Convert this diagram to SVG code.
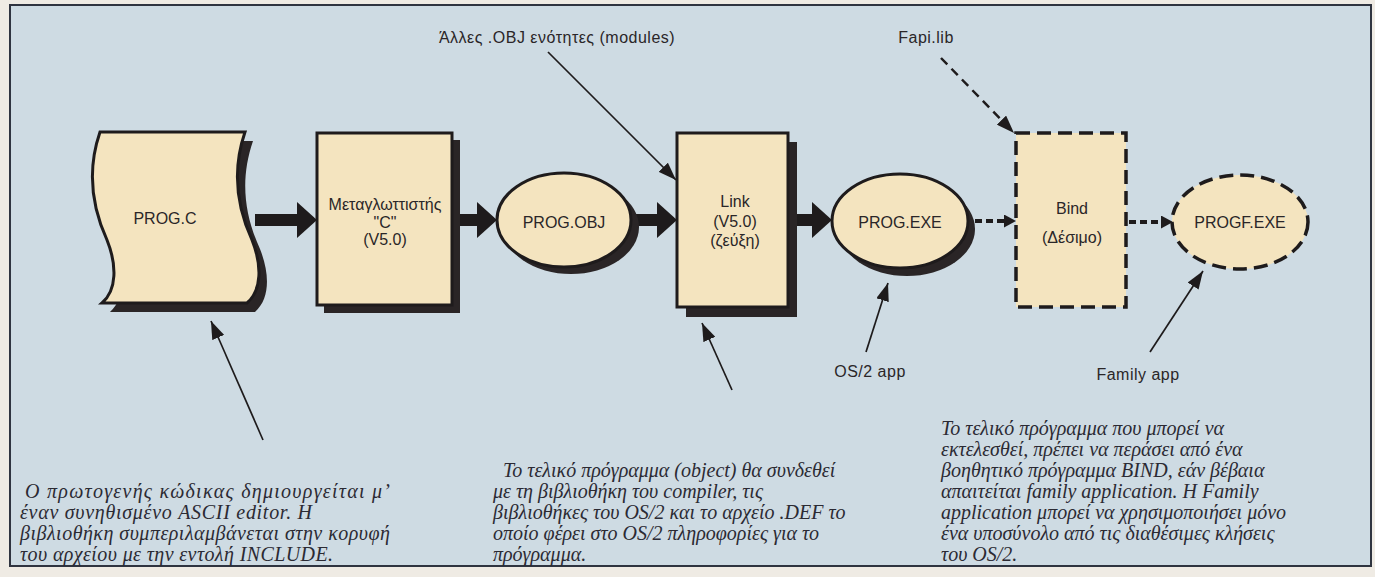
<svg xmlns="http://www.w3.org/2000/svg" width="1375" height="577" viewBox="0 0 1375 577">
<style>
.lbl{font-family:"Liberation Sans",Arial,sans-serif;font-size:16px;fill:#2a2628;text-anchor:middle}
.cap{font-family:"Liberation Sans",Arial,sans-serif;font-size:16px;letter-spacing:0.5px;fill:#2a2628;text-anchor:middle}
.note{font-family:"Liberation Serif","Times New Roman",serif;font-style:italic;font-size:20px;fill:#2b2a33}
.node{fill:#f4e4bf;stroke:#1e1b1c;stroke-width:3}
.shadow{fill:#2a2526}
.dnode{fill:#f4e4bf;stroke:#1e1b1c;stroke-width:3.5;stroke-dasharray:14 7}
.thick{stroke:#1e1b1c;stroke-width:12;fill:none}
.dash{stroke:#1e1b1c;stroke-width:4;fill:none;stroke-dasharray:7 4}
.thin{stroke:#1e1b1c;stroke-width:1.7;fill:none}
</style>
<defs>
<marker id="mThick" markerUnits="userSpaceOnUse" markerWidth="20" markerHeight="36" viewBox="0 0 20 36" refX="0" refY="18" orient="auto"><path d="M0,0 L20,18 L0,36 Z" fill="#1e1b1c"/></marker>
<marker id="mDash" markerUnits="userSpaceOnUse" markerWidth="12" markerHeight="13" viewBox="0 0 12 13" refX="0" refY="6.5" orient="auto"><path d="M0,0 L12,6.5 L0,13 Z" fill="#1e1b1c"/></marker>
<marker id="mThin" markerUnits="userSpaceOnUse" markerWidth="18" markerHeight="13" viewBox="0 0 18 13" refX="18" refY="6.5" orient="auto"><path d="M0,0 L18,6.5 L0,13 Z" fill="#1e1b1c"/></marker>
</defs>
<rect x="0" y="0" width="1375" height="577" fill="#efebe4"/>
<rect x="10" y="5" width="1361" height="561" fill="#cedbe3" stroke="#2f3440" stroke-width="2"/>

<g id="connectors">
<line class="thick" x1="255" y1="220" x2="297" y2="220" marker-end="url(#mThick)"/>
<line class="thick" x1="455" y1="220" x2="477" y2="220" marker-end="url(#mThick)"/>
<line class="thick" x1="634" y1="220" x2="657" y2="220" marker-end="url(#mThick)"/>
<line class="thick" x1="792" y1="220" x2="812" y2="220" marker-end="url(#mThick)"/>
<line class="dash" x1="975" y1="221" x2="1004" y2="221" marker-end="url(#mDash)"/>
<line class="dash" x1="1129" y1="222" x2="1161" y2="222" marker-end="url(#mDash)"/>
<line x1="941" y1="58" x2="1014" y2="133" stroke="#1e1b1c" stroke-width="2.5" stroke-dasharray="9 6" marker-end="url(#mThin)"/>
<line class="thin" x1="548" y1="52" x2="676" y2="180" marker-end="url(#mThin)"/>
<line class="thin" x1="263" y1="440" x2="211" y2="321" marker-end="url(#mThin)"/>
<line class="thin" x1="732" y1="390" x2="702" y2="323" marker-end="url(#mThin)"/>
<line class="thin" x1="866" y1="352" x2="888" y2="283" marker-end="url(#mThin)"/>
<line class="thin" x1="1150" y1="352" x2="1203" y2="271" marker-end="url(#mThin)"/>
</g>

<g id="prog-c">
<path class="shadow" transform="translate(8,9)" d="M100,132 L245,132 C232,170 236,205 252,240 C262,265 262,290 247,303 L102,303 C117,290 117,265 107,240 C91,205 87,170 100,132 Z"/>
<path class="node" d="M100,132 L245,132 C232,170 236,205 252,240 C262,265 262,290 247,303 L102,303 C117,290 117,265 107,240 C91,205 87,170 100,132 Z"/>
<text class="lbl" x="165" y="224">PROG.C</text>
</g>

<g id="compiler">
<rect class="shadow" x="324" y="140" width="136" height="173"/>
<rect class="node" x="317" y="133" width="135" height="172"/>
<text class="lbl" x="385" y="210">Μεταγλωττιστής</text>
<text class="lbl" x="385" y="228">"C"</text>
<text class="lbl" x="385" y="245">(V5.0)</text>
</g>

<g id="prog-obj">
<ellipse class="shadow" cx="571" cy="227" rx="68" ry="47"/>
<ellipse class="node" cx="564" cy="220" rx="67" ry="47"/>
<text class="lbl" x="564" y="228">PROG.OBJ</text>
</g>

<g id="link">
<rect class="shadow" x="686" y="142" width="111" height="175"/>
<rect class="node" x="677" y="133" width="111" height="174"/>
<text class="lbl" x="735" y="207">Link</text>
<text class="lbl" x="735" y="227">(V5.0)</text>
<text class="lbl" x="735" y="246">(ζεύξη)</text>
</g>

<g id="prog-exe">
<ellipse class="shadow" cx="907" cy="229" rx="68" ry="47"/>
<ellipse class="node" cx="900" cy="221" rx="68" ry="47"/>
<text class="lbl" x="900" y="228">PROG.EXE</text>
</g>

<g id="bind">
<rect class="dnode" x="1016" y="133" width="110" height="174"/>
<text class="lbl" x="1072" y="214">Bind</text>
<text class="lbl" x="1072" y="243">(Δέσιμο)</text>
</g>

<g id="progf-exe">
<ellipse class="dnode" cx="1240" cy="222" rx="68" ry="47"/>
<text class="lbl" x="1240" y="228">PROGF.EXE</text>
</g>

<g id="labels">
<text class="cap" x="557" y="43">Άλλες .OBJ ενότητες (modules)</text>
<text class="cap" x="926" y="43">Fapi.lib</text>
<text class="cap" x="870" y="377">OS/2 app</text>
<text class="cap" x="1138" y="380">Family app</text>
</g>

<g id="note-source">
<text class="note" x="25" y="498" textLength="365" lengthAdjust="spacing">Ο πρωτογενής κώδικας δημιουργείται μ’</text>
<text class="note" x="20" y="519" textLength="292" lengthAdjust="spacing">έναν συνηθισμένο ASCII editor. Η</text>
<text class="note" x="20" y="540" textLength="370" lengthAdjust="spacing">βιβλιοθήκη συμπεριλαμβάνεται στην κορυφή</text>
<text class="note" x="20" y="561" textLength="313" lengthAdjust="spacing">του αρχείου με την εντολή INCLUDE.</text>
</g>

<g id="note-link">
<text class="note" x="503" y="477">Το τελικό πρόγραμμα (object) θα συνδεθεί</text>
<text class="note" x="493" y="498">με τη βιβλιοθήκη του compiler, τις</text>
<text class="note" x="493" y="519">βιβλιοθήκες του OS/2 και το αρχείο .DEF το</text>
<text class="note" x="493" y="540">οποίο φέρει στο OS/2 πληροφορίες για το</text>
<text class="note" x="493" y="561">πρόγραμμα.</text>
</g>

<g id="note-bind">
<text class="note" x="941" y="435">Το τελικό πρόγραμμα που μπορεί να</text>
<text class="note" x="941" y="456">εκτελεσθεί, πρέπει να περάσει από ένα</text>
<text class="note" x="941" y="477">βοηθητικό πρόγραμμα BIND, εάν βέβαια</text>
<text class="note" x="941" y="498">απαιτείται family application. Η Family</text>
<text class="note" x="941" y="519">application μπορεί να χρησιμοποιήσει μόνο</text>
<text class="note" x="941" y="540">ένα υποσύνολο από τις διαθέσιμες κλήσεις</text>
<text class="note" x="941" y="561">του OS/2.</text>
</g>
</svg>
